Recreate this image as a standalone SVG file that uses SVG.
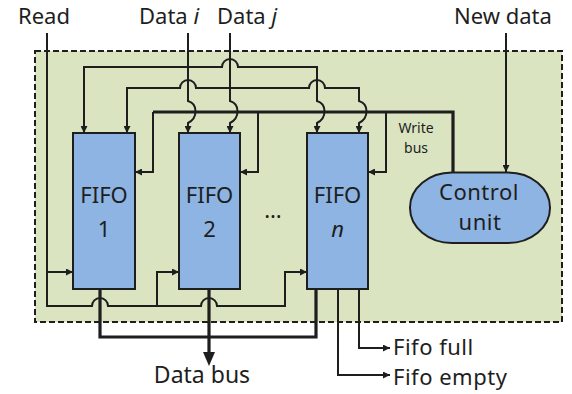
<svg xmlns="http://www.w3.org/2000/svg" width="572" height="394" viewBox="0 0 572 394">
<defs>
<style>
text{font-family:"Noto Sans","Open Sans","DejaVu Sans",sans-serif;fill:#1e1e1e}
.lbl{font-size:23px}
.tight{font-size:22px;letter-spacing:0.5px}
.top{font-size:22px}
.fl{font-size:22px;text-anchor:middle}
.sm{font-size:14px;text-anchor:middle}
.w{fill:none;stroke:#1e1e1e;stroke-width:2}
.b{fill:none;stroke:#1e1e1e;stroke-width:3.2}
.box{fill:#8db4e2;stroke:#1e1e1e;stroke-width:2}
</style>
<marker id="ar" viewBox="0 0 8 8" refX="8" refY="4" markerWidth="7" markerHeight="7" markerUnits="userSpaceOnUse" orient="auto-start-reverse">
<path d="M0,0 L8,4 L0,8 z" fill="#1e1e1e"/>
</marker>
</defs>
<rect id="container" x="35" y="51" width="527" height="271" fill="#dae4c0" stroke="#1e1e1e" stroke-width="2" stroke-dasharray="6 3"/>

<g id="connectors">
<path class="w" d="M47,33 V306 H92 A8,8 0 0 1 108,306 H201 A8,8 0 0 1 217,306 H285 V272 H307" marker-end="url(#ar)"/>
<path class="w" d="M47,272 H73" marker-end="url(#ar)"/>
<path class="w" d="M157,306 V272 H179" marker-end="url(#ar)"/>
<path class="w" d="M84,133 V67 H222 A8,8 0 0 1 238,67 H317 V101 C327,104 327,118 317,123 V133" marker-start="url(#ar)" marker-end="url(#ar)"/>
<path class="w" d="M127,133 V88 H180 A8,8 0 0 1 196,88 H309 A8,8 0 0 1 325,88 H359 V101 C369,104 369,118 359,123 V133" marker-start="url(#ar)" marker-end="url(#ar)"/>
<path class="w" d="M188,33 V101 C198,104 198,118 188,123 V133" marker-end="url(#ar)"/>
<path class="w" d="M230,33 V101 C240,104 240,118 230,123 V133" marker-end="url(#ar)"/>
<path class="w" d="M506,33 V172" marker-end="url(#ar)"/>
<path class="b" d="M153,112 H453 V172"/>
<path class="w" d="M153,112 V172 H135" marker-end="url(#ar)"/>
<path class="w" d="M258,112 V172 H240" marker-end="url(#ar)"/>
<path class="w" d="M386,112 V172 H368" marker-end="url(#ar)"/>
<path class="b" d="M100,289 V337 H316 V289"/>
<path class="b" d="M209,289 V353"/>
<path d="M203,352 L215,352 L209,366 z" fill="#1e1e1e"/>
<path class="w" d="M359,289 V348 H390" marker-end="url(#ar)"/>
<path class="w" d="M338,289 V375 H390" marker-end="url(#ar)"/>
</g>

<g id="fifo1">
<rect class="box" x="73" y="133" width="62" height="156"/>
<text class="fl" x="104" y="203">FIFO<tspan x="104" y="237">1</tspan></text>
</g>
<g id="fifo2">
<rect class="box" x="179" y="133" width="61" height="156"/>
<text class="fl" x="209.5" y="203">FIFO<tspan x="209.5" y="237">2</tspan></text>
</g>
<g id="dots">
<text class="fl" x="273" y="218">…</text>
</g>
<g id="fifon">
<rect class="box" x="307" y="133" width="61" height="156"/>
<text class="fl" x="337.5" y="203">FIFO<tspan x="337.5" y="237" font-style="italic">n</tspan></text>
</g>
<g id="control">
<rect class="box" x="410" y="172.5" width="140" height="70.5" rx="42" ry="35"/>
<text class="tight" x="479" y="200" text-anchor="middle">Control<tspan x="480" y="230">unit</tspan></text>
</g>

<g id="labels">
<text class="top" x="18" y="24">Read</text>
<text class="top" x="139" y="24">Data <tspan font-style="italic">i</tspan></text>
<text class="top" x="217" y="24">Data <tspan font-style="italic">j</tspan></text>
<text class="top" x="454" y="24">New data</text>
<text class="sm" x="416" y="133">Write<tspan x="416" y="153">bus</tspan></text>
<text class="lbl" x="202" y="383" text-anchor="middle">Data bus</text>
<text class="tight" x="393" y="355">Fifo full</text>
<text class="tight" x="393" y="385">Fifo empty</text>
</g>
</svg>
